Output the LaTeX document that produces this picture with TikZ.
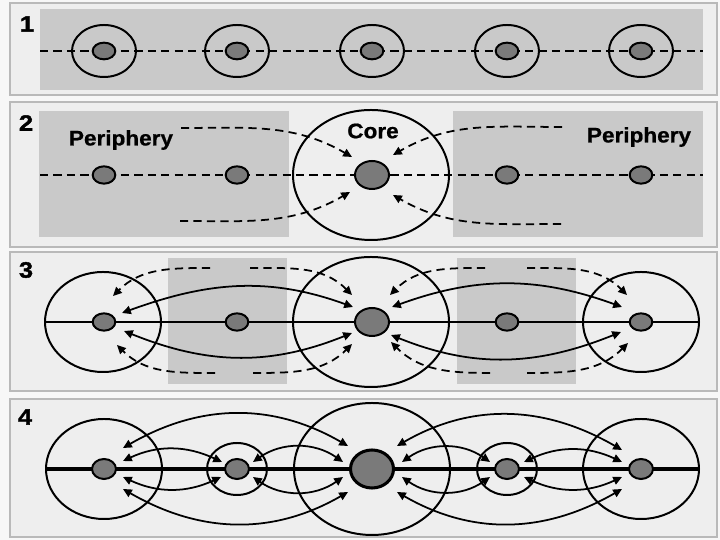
\documentclass[tikz,border=0pt]{standalone}
\usepackage{fontspec}
\setmainfont{Liberation Sans}
\newfontfamily\labelfont[FakeStretch=1.07, FakeBold=0.8]{Liberation Sans}
\newfontfamily\tagfont[FakeStretch=1.15, FakeBold=1.6]{Liberation Sans}
\usetikzlibrary{arrows.meta, shapes.geometric}

\begin{document}
\begin{tikzpicture}[
    x=0.03cm, y=0.03cm,
    panel/.style={
        draw=gray!55,
        line width=1.8pt,
        fill=gray!13
    },
    zone/.style={
        fill=gray!42
    },
    ring/.style={
        ellipse,
        draw,
        line width=1.7pt,
        inner sep=0pt
    },
    dot/.style={
        ellipse,
        draw,
        line width=1.7pt,
        fill=black!52,
        inner sep=0pt,
        minimum width=0.68cm,
        minimum height=0.52cm
    },
    hub/.style={
        dot,
        minimum width=1.02cm,
        minimum height=0.84cm
    },
    tag/.style={
        font=\tagfont\fontsize{19}{21}\selectfont\bfseries
    },
    txt/.style={
        font=\labelfont\fontsize{18}{20}\selectfont\bfseries
    },
    dashline/.style={
        line width=1.6pt,
        dash pattern=on 7pt off 4.5pt
    },
    flow/.style={
        -{Triangle[length=7.5pt, width=7pt]},
        line width=1.5pt,
        dash pattern=on 7pt off 4.5pt
    },
    link/.style={
        {Triangle[length=7.5pt, width=7pt]}-{Triangle[length=7.5pt, width=7pt]},
        line width=1.5pt
    }
]

% === Canvas and panel frames ===
\fill[gray!6] (0,0) rectangle (720,540);
\draw[panel] (10,445) rectangle (717,537);
\draw[panel] (10,293) rectangle (717,438);
\draw[panel] (10,149) rectangle (717,288);
\draw[panel] (10,3) rectangle (717,141);

% === Panel 1 ===
\fill[zone] (40,450) rectangle (703,531);
\draw[dashline] (40,489) -- (703,489);
\foreach \x [count=\i] in {104,237,372,507,641} {
    \node[ring, minimum width=1.92cm, minimum height=1.56cm] (r1\i) at (\x,489) {};
    \node[dot, minimum height=0.5cm] (d1\i) at (\x,489) {};
}
\node[tag] (n1) at (27,516) {1};

% === Panel 2 ===
\fill[zone] (39,303) rectangle (289,429);
\fill[zone] (453,303) rectangle (703,429);
\draw[dashline] (40,365) -- (703,365);
\node[ring, minimum width=4.68cm, minimum height=3.9cm] (r2) at (371,365) {};
\node[dot] (d21) at (104,365) {};
\node[dot] (d22) at (237,365) {};
\node[hub] (c2) at (372,365) {};
\node[dot] (d24) at (507,365) {};
\node[dot] (d25) at (641,365) {};
\node[tag] (n2) at (26,417) {2};
\node[txt] (pl) at (121,400) {Periphery};
\node[txt] (pr) at (639,403) {Periphery};
\node[txt] (core) at (373,409) {Core};

\coordinate (t21) at (181,412);
\coordinate (t22) at (180,319);
\coordinate (t23) at (562,413);
\coordinate (t24) at (561,316);
\draw[flow] (t21) to[out=0, in=150] ([shift={(-20,18)}]c2.center);
\draw[flow] (t22) to[out=0, in=210] ([shift={(-22,-17)}]c2.center);
\draw[flow] (t23) to[out=180, in=30] ([shift={(21,20)}]c2.center);
\draw[flow] (t24) to[out=180, in=-30] ([shift={(21,-20)}]c2.center);

% === Panel 3 ===
\fill[zone] (168,156) rectangle (287,282);
\fill[zone] (457,156) rectangle (576,282);
\draw[line width=1.4pt] (45,218) -- (698,218);
\node[ring, minimum width=3.48cm, minimum height=3cm] (r31) at (103,218) {};
\node[ring, minimum width=4.68cm, minimum height=3.9cm] (r33) at (371,218) {};
\node[ring, minimum width=3.48cm, minimum height=3cm] (r35) at (641,218) {};
\node[dot] (d31) at (104,218) {};
\node[dot] (d32) at (237,218) {};
\node[hub] (c3) at (372,218) {};
\node[dot] (d34) at (507,218) {};
\node[dot] (d35) at (641,218) {};
\node[tag] (n3) at (26,270) {3};

\draw[link] ([shift={(18,9)}]d31.center) to[out=20, in=160] ([shift={(-19,15)}]c3.center);
\draw[link] ([shift={(20,-9)}]d31.center) to[out=-22, in=202] ([shift={(-20,-11)}]c3.center);
\draw[link] ([shift={(20,15)}]c3.center) to[out=20, in=160] ([shift={(-19,15)}]d35.center);
\draw[link] ([shift={(19,-13)}]c3.center) to[out=-22, in=202] ([shift={(-20,-10)}]d35.center);

\coordinate (t31) at (210,272);
\coordinate (t32) at (215,167);
\coordinate (t33) at (250,272);
\coordinate (t34) at (253,167);
\coordinate (t35) at (485,272);
\coordinate (t36) at (490,167);
\coordinate (t37) at (527,272);
\coordinate (t38) at (527,167);
\draw[flow] (t31) to[out=180, in=45] ([shift={(9,26)}]d31.center);
\draw[flow] (t32) to[out=180, in=-45] ([shift={(13,-23)}]d31.center);
\draw[flow] (t33) to[out=0, in=135] ([shift={(-20,27)}]c3.center);
\draw[flow] (t34) to[out=0, in=-135] ([shift={(-20,-22)}]c3.center);
\draw[flow] (t35) to[out=180, in=45] ([shift={(18,27)}]c3.center);
\draw[flow] (t36) to[out=180, in=-45] ([shift={(19,-20)}]c3.center);
\draw[flow] (t37) to[out=0, in=135] ([shift={(-14,27)}]d35.center);
\draw[flow] (t38) to[out=0, in=-135] ([shift={(-13,-21)}]d35.center);

% === Panel 4 ===
\draw[line width=3.2pt] (45,71) -- (700,71);
\node[ring, minimum width=3.48cm, minimum height=3cm] (r41) at (104,71) {};
\node[ring, minimum width=1.8cm, minimum height=1.56cm] (r42) at (237,71) {};
\node[ring, minimum width=4.68cm, minimum height=3.96cm] (r43) at (372,71) {};
\node[ring, minimum width=1.8cm, minimum height=1.56cm] (r44) at (507,71) {};
\node[ring, minimum width=3.48cm, minimum height=3cm] (r45) at (641,71) {};
\node[dot, minimum width=0.72cm, minimum height=0.6cm] (d41) at (104,71) {};
\node[dot, minimum width=0.72cm, minimum height=0.6cm] (d42) at (237,71) {};
\node[hub, line width=2.6pt, minimum width=1.29cm, minimum height=1.14cm] (c4) at (372,71) {};
\node[dot, minimum width=0.72cm, minimum height=0.6cm] (d44) at (507,71) {};
\node[dot, minimum width=0.72cm, minimum height=0.6cm] (d45) at (641,71) {};
\node[tag] (n4) at (25,123) {4};

\draw[link] ([shift={(19,21)}]d41.center) to[out=30, in=150] ([shift={(-24,23)}]c4.center);
\draw[link] ([shift={(19,-20)}]d41.center) to[out=-30, in=210] ([shift={(-24,-23)}]c4.center);
\draw[link] ([shift={(19,8)}]d41.center) to[out=25, in=155] ([shift={(-15,7)}]d42.center);
\draw[link] ([shift={(19,-8)}]d41.center) to[out=-25, in=205] ([shift={(-16,-8)}]d42.center);
\draw[link] ([shift={(16,7)}]d42.center) to[out=35, in=145] ([shift={(-29,7)}]c4.center);
\draw[link] ([shift={(16,-8)}]d42.center) to[out=-35, in=215] ([shift={(-29,-8)}]c4.center);
\draw[link] ([shift={(25,23)}]c4.center) to[out=30, in=150] ([shift={(-19,19)}]d45.center);
\draw[link] ([shift={(25,-23)}]c4.center) to[out=-30, in=210] ([shift={(-19,-20)}]d45.center);
\draw[link] ([shift={(30,7)}]c4.center) to[out=35, in=145] ([shift={(-17,7)}]d44.center);
\draw[link] ([shift={(30,-8)}]c4.center) to[out=-35, in=215] ([shift={(-17,-8)}]d44.center);
\draw[link] ([shift={(17,7)}]d44.center) to[out=25, in=155] ([shift={(-19,7)}]d45.center);
\draw[link] ([shift={(17,-8)}]d44.center) to[out=-25, in=205] ([shift={(-19,-8)}]d45.center);

\end{tikzpicture}
\end{document}
